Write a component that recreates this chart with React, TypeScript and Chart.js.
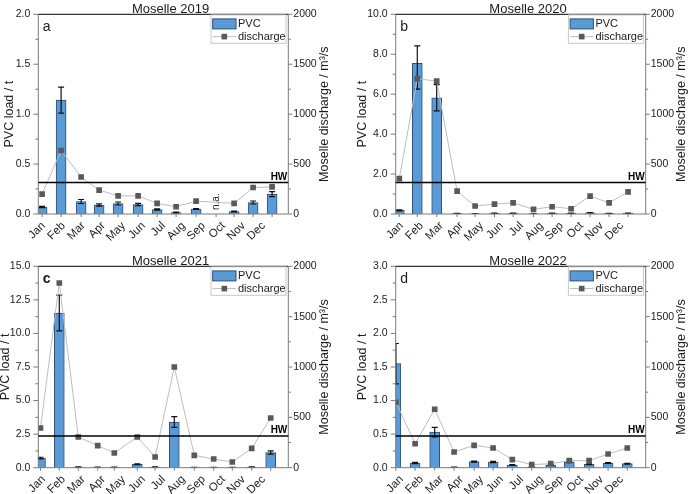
import React, { useEffect, useRef } from 'react';
import { Chart, registerables } from 'chart.js';
Chart.register(...registerables);

// ---------- data ----------
const months = ['Jan', 'Feb', 'Mar', 'Apr', 'May', 'Jun', 'Jul', 'Aug', 'Sep', 'Oct', 'Nov', 'Dec'];
const HW = 315; // high-water discharge threshold, m³/s

// Moselle 2019 (a)
const posA = [0.08, 1.03, 2.03, 2.93, 3.88, 4.88, 5.83, 6.78, 7.78, 8.78, 9.68, 10.63, 11.58];
const pvcA = [0.07, 1.14, 0.125, 0.09, 0.105, 0.095, 0.045, 0.015, 0.05, null, 0.025, 0.115, 0.2];
const errA = [0.007, 0.13, 0.02, 0.012, 0.015, 0.012, 0.007, 0.004, 0.005, null, 0.005, 0.015, 0.025];
const qA = [199, 636, 371, 239, 182, 182, 106, 73, 129, null, 106, 265, 271];

// Moselle 2020 (b)
const posB = [0.04, 0.94, 1.91, 2.93, 3.83, 4.8, 5.73, 6.75, 7.68, 8.63, 9.58, 10.53, 11.48];
const pvcB = [0.18, 7.55, 5.82, 0.02, 0.01, 0.03, 0.03, 0.01, 0.03, 0.03, 0.06, 0.02, 0.03];
const errUpB = [0.03, 0.87, 0.66, 0.01, 0.01, 0.01, 0.01, 0.01, 0.01, 0.01, 0.01, 0.01, 0.01];
const errDownB = [0.03, 1.3, 0.66, 0.01, 0.01, 0.01, 0.01, 0.01, 0.01, 0.01, 0.01, 0.01, 0.01];
const qB = [355, 1355, 1330, 229, 80, 99, 112, 47, 73, 53, 179, 112, 222];

// Moselle 2021 (c)
const posC = [0.0, 0.94, 1.89, 2.86, 3.69, 4.84, 5.73, 6.69, 7.69, 8.66, 9.59, 10.56, 11.51];
const pvcC = [0.72, 11.52, 0.05, 0.03, 0.03, 0.25, 0.05, 3.4, 0.02, 0.02, 0.01, 0.05, 1.13];
const errC = [0.06, 1.33, 0.02, 0.01, 0.01, 0.03, 0.02, 0.4, 0.01, 0.01, 0.01, 0.02, 0.12];
const qC = [394, 1834, 305, 219, 146, 305, 106, 1000, 123, 86, 57, 192, 494];

// Moselle 2022 (d)
const posD = [-0.13, 0.83, 1.81, 2.78, 3.78, 4.73, 5.69, 6.66, 7.61, 8.54, 9.53, 10.48, 11.44];
const pvcD = [1.55, 0.07, 0.53, 0.005, 0.09, 0.085, 0.04, 0.01, 0.04, 0.085, 0.05, 0.07, 0.06];
const errD = [0.3, 0.01, 0.07, 0.003, 0.008, 0.008, 0.005, 0.004, 0.005, 0.008, 0.006, 0.006, 0.006];
const qD = [650, 238, 580, 156, 222, 196, 80, 30, 40, 70, 70, 136, 196];

// ---------- layout / styling ----------
const W = 344;
const H = 247;
const FONT = "Arial, 'Liberation Sans', sans-serif";
const BAR_FILL = '#5b9bd5';
const BAR_EDGE = '#2f4f75';
const LINE_COL = '#bdbdbd';
const MARK_COL = '#595959';
const AXIS_COL = '#7a7a7a';
const TEXT_COL = '#1a1a1a';

type Panel = {
  title: string; letter: string; letterBold: boolean;
  pos: number[]; pvc: (number | null)[]; errUp: (number | null)[]; errDown: (number | null)[]; q: (number | null)[];
  yMax: number; yStep: number; xMin: number; xMax: number; naIndex: number;
  box: { x: number; y: number };
  area: { left: number; right: number; top: number; bottom: number };
  leftTitleX: number; rightTitleX: number;
};

const panels: Panel[] = [
  {
    title: 'Moselle 2019', letter: 'a', letterBold: false,
    pos: posA, pvc: pvcA, errUp: errA, errDown: errA, q: qA,
    yMax: 2, yStep: 0.5, xMin: -0.11, xMax: 12.39, naIndex: 9,
    box: { x: 0, y: 0 }, area: { left: 38.3, right: 288.3, top: 12.7, bottom: 214 },
    leftTitleX: 10, rightTitleX: 325,
  },
  {
    title: 'Moselle 2020', letter: 'b', letterBold: false,
    pos: posB, pvc: pvcB, errUp: errUpB, errDown: errDownB, q: qB,
    yMax: 10, yStep: 2, xMin: -0.14, xMax: 12.36, naIndex: -1,
    box: { x: 344, y: 0 }, area: { left: 51.7, right: 301.7, top: 12.7, bottom: 214 },
    leftTitleX: 18.3, rightTitleX: 338,
  },
  {
    title: 'Moselle 2021', letter: 'c', letterBold: true,
    pos: posC, pvc: pvcC, errUp: errC, errDown: errC, q: qC,
    yMax: 15, yStep: 2.5, xMin: -0.11, xMax: 12.39, naIndex: -1,
    box: { x: 0, y: 247 }, area: { left: 38.3, right: 288.3, top: 19.3, bottom: 220.7 },
    leftTitleX: 6, rightTitleX: 325,
  },
  {
    title: 'Moselle 2022', letter: 'd', letterBold: false,
    pos: posD, pvc: pvcD, errUp: errD, errDown: errD, q: qD,
    yMax: 3, yStep: 0.5, xMin: -0.14, xMax: 12.36, naIndex: -1,
    box: { x: 344, y: 247 }, area: { left: 51.7, right: 301.7, top: 19.3, bottom: 220.7 },
    leftTitleX: 18.3, rightTitleX: 338,
  },
];

function decorPlugin(p: Panel) {
  return {
    id: 'decor',
    afterDatasetDraw(chart: any, args: any) {
      if (args.meta.type !== 'bar') return;
      const { ctx, chartArea: ca, scales } = chart;
      const x = scales.x, y = scales.y;
      ctx.save();
      ctx.beginPath();
      ctx.rect(ca.left - 0.5, ca.top, ca.right - ca.left + 1, ca.bottom - ca.top);
      ctx.clip();
      ctx.strokeStyle = '#111';
      ctx.lineWidth = 1.2;
      p.pvc.forEach((v, i) => {
        if (v == null) return;
        const px = x.getPixelForValue(p.pos[i]);
        const up = p.errUp[i] ?? 0;
        const dn = p.errDown[i] ?? 0;
        const top = y.getPixelForValue(v + up);
        const bot = y.getPixelForValue(Math.max(0, v - dn));
        ctx.beginPath();
        ctx.moveTo(px, top); ctx.lineTo(px, bot);
        ctx.moveTo(px - 3, top); ctx.lineTo(px + 3, top);
        ctx.moveTo(px - 3, bot); ctx.lineTo(px + 3, bot);
        ctx.stroke();
      });
      ctx.restore();
    },
    afterDraw(chart: any) {
      const { ctx, chartArea: ca, scales } = chart;
      const x = scales.x, y = scales.y, y1 = scales.y1;
      ctx.save();
      // frame
      ctx.lineWidth = 1;
      ctx.strokeStyle = AXIS_COL;
      ctx.beginPath();
      ctx.moveTo(ca.left, ca.top); ctx.lineTo(ca.left, ca.bottom);
      ctx.lineTo(ca.right, ca.bottom); ctx.lineTo(ca.right, ca.top);
      ctx.stroke();
      ctx.strokeStyle = '#000';
      ctx.beginPath();
      ctx.moveTo(ca.left, ca.top); ctx.lineTo(ca.right, ca.top);
      ctx.stroke();
      // left ticks
      ctx.strokeStyle = AXIS_COL;
      ctx.beginPath();
      const half = p.yStep / 2;
      for (let k = 0; k * half <= p.yMax + 1e-9; k++) {
        const py = y.getPixelForValue(k * half);
        const len = k % 2 === 0 ? 5 : 3;
        ctx.moveTo(ca.left - len, py); ctx.lineTo(ca.left, py);
      }
      // right ticks
      for (let k = 0; k * 250 <= 2000; k++) {
        const py = y1.getPixelForValue(k * 250);
        const len = k % 2 === 0 ? 4 : 2.5;
        ctx.moveTo(ca.right, py); ctx.lineTo(ca.right + len, py);
      }
      // bottom ticks at samples
      p.pos.forEach((v) => {
        const px = x.getPixelForValue(v);
        if (px < ca.left - 0.5 || px > ca.right + 0.5) return;
        ctx.moveTo(px, ca.bottom); ctx.lineTo(px, ca.bottom + 3);
      });
      ctx.stroke();

      // HW line
      const hy = y1.getPixelForValue(HW);
      ctx.strokeStyle = '#000';
      ctx.lineWidth = 1.4;
      ctx.beginPath();
      ctx.moveTo(ca.left, hy); ctx.lineTo(ca.right, hy);
      ctx.stroke();
      ctx.fillStyle = '#000';
      ctx.font = `bold 10px ${FONT}`;
      ctx.textAlign = 'right';
      ctx.textBaseline = 'alphabetic';
      ctx.fillText('HW', ca.right - 1, hy - 2.5);

      // n.a.
      if (p.naIndex >= 0) {
        const px = x.getPixelForValue(p.pos[p.naIndex]);
        ctx.save();
        ctx.translate(px, ca.bottom - 4);
        ctx.rotate(-Math.PI / 2);
        ctx.font = `10px ${FONT}`;
        ctx.fillStyle = TEXT_COL;
        ctx.textAlign = 'left';
        ctx.textBaseline = 'middle';
        ctx.fillText('n.a.', 0, 0);
        ctx.restore();
      }

      // panel letter
      ctx.fillStyle = TEXT_COL;
      ctx.font = `${p.letterBold ? 'bold ' : ''}14px ${FONT}`;
      ctx.textAlign = 'left';
      ctx.textBaseline = 'alphabetic';
      ctx.fillText(p.letter, ca.left + 4.5, ca.top + 16.7);

      // legend
      const lx = ca.right - 77.3, ly = ca.top + 0.6;
      ctx.lineWidth = 1;
      ctx.strokeStyle = '#c8c8c8';
      ctx.strokeRect(lx, ly, 75, 28.4);
      ctx.fillStyle = BAR_FILL;
      ctx.fillRect(lx + 1.7, ly + 4, 23.3, 10);
      ctx.strokeStyle = BAR_EDGE;
      ctx.strokeRect(lx + 1.7, ly + 4, 23.3, 10);
      ctx.strokeStyle = LINE_COL;
      ctx.beginPath();
      ctx.moveTo(lx + 1.7, ly + 21.7); ctx.lineTo(lx + 25, ly + 21.7);
      ctx.stroke();
      ctx.fillStyle = MARK_COL;
      ctx.fillRect(lx + 13.3 - 2.8, ly + 21.7 - 2.8, 5.6, 5.6);
      ctx.fillStyle = TEXT_COL;
      ctx.font = `11px ${FONT}`;
      ctx.textBaseline = 'middle';
      ctx.fillText('PVC', lx + 27, ly + 9);
      ctx.fillText('discharge', lx + 27, ly + 21.7);

      // title
      ctx.font = `13px ${FONT}`;
      ctx.textAlign = 'center';
      ctx.textBaseline = 'alphabetic';
      ctx.fillText(p.title, (ca.left + ca.right) / 2 + 7.3, ca.top - 1.5);

      // axis titles
      const midY = (ca.top + ca.bottom) / 2;
      ctx.font = `12.5px ${FONT}`;
      ctx.textBaseline = 'middle';
      ctx.save();
      ctx.translate(p.leftTitleX, midY);
      ctx.rotate(-Math.PI / 2);
      ctx.fillText('PVC load / t', 0, 0);
      ctx.restore();
      ctx.save();
      ctx.translate(p.rightTitleX, midY);
      ctx.rotate(-Math.PI / 2);
      ctx.fillText('Moselle discharge / m³/s', 0, 0);
      ctx.restore();

      ctx.restore();
    },
  };
}

function PanelChart({ p }: { p: Panel }) {
  const ref = useRef<HTMLCanvasElement>(null);
  useEffect(() => {
    const tickFont = { family: FONT, size: 10.5 };
    const chart = new Chart(ref.current as HTMLCanvasElement, {
      type: 'bar',
      data: {
        datasets: [
          {
            type: 'line',
            label: 'discharge',
            yAxisID: 'y1',
            data: p.pos.map((xv, i) => ({ x: xv, y: p.q[i] })),
            borderColor: LINE_COL,
            borderWidth: 1,
            pointStyle: 'rect',
            pointRadius: 4,
            pointBackgroundColor: MARK_COL,
            pointBorderColor: MARK_COL,
            pointBorderWidth: 0,
            spanGaps: true,
            tension: 0,
            order: 0,
          } as any,
          {
            type: 'bar',
            label: 'PVC',
            yAxisID: 'y',
            data: p.pos.map((xv, i) => ({ x: xv, y: p.pvc[i] })),
            backgroundColor: BAR_FILL,
            borderColor: BAR_EDGE,
            borderWidth: 1,
            barThickness: 10,
            order: 1,
          } as any,
        ],
      },
      options: {
        animation: false,
        responsive: false,
        maintainAspectRatio: false,
        layout: { padding: { top: p.area.top, left: 0, right: 0, bottom: 0 } },
        plugins: {
          legend: { display: false },
          tooltip: { enabled: false },
          title: { display: false },
        },
        scales: {
          x: {
            type: 'linear',
            min: p.xMin,
            max: p.xMax,
            offset: false,
            grid: { display: false, drawTicks: false, offset: false },
            border: { display: false },
            afterBuildTicks: (s: any) => { s.ticks = months.map((_, i) => ({ value: i })); },
            afterFit: (s: any) => { s.height = H - p.area.bottom; },
            ticks: {
              autoSkip: false,
              minRotation: 45,
              maxRotation: 45,
              padding: 5,
              labelOffset: 3,
              color: '#222',
              font: { family: FONT, size: 11.5 },
              callback: (_v: any, i: number) => months[i],
            },
          },
          y: {
            type: 'linear',
            position: 'left',
            min: 0,
            max: p.yMax,
            grid: { display: false, drawTicks: false },
            border: { display: false },
            afterFit: (s: any) => { s.width = p.area.left; },
            ticks: {
              stepSize: p.yStep,
              padding: 8,
              color: '#222',
              font: tickFont,
              callback: (v: any) => Number(v).toFixed(1),
            },
          },
          y1: {
            type: 'linear',
            position: 'right',
            min: 0,
            max: 2000,
            grid: { display: false, drawTicks: false },
            border: { display: false },
            afterFit: (s: any) => { s.width = W - p.area.right; },
            ticks: {
              stepSize: 500,
              padding: 5,
              color: '#222',
              font: tickFont,
              callback: (v: any) => String(v),
            },
          },
        },
      } as any,
      plugins: [decorPlugin(p)],
    });
    return () => chart.destroy();
  }, [p]);
  return (
    <div style={{ position: 'absolute', left: p.box.x, top: p.box.y, width: W, height: H }}>
      <canvas ref={ref} width={W} height={H} style={{ width: W, height: H, display: 'block' }} />
    </div>
  );
}

export default function App() {
  return (
    <div style={{ position: 'fixed', left: 0, top: 0, width: 688, height: 494, background: '#fff', overflow: 'hidden' }}>
      {panels.map((p) => (
        <PanelChart key={p.title} p={p} />
      ))}
    </div>
  );
}
